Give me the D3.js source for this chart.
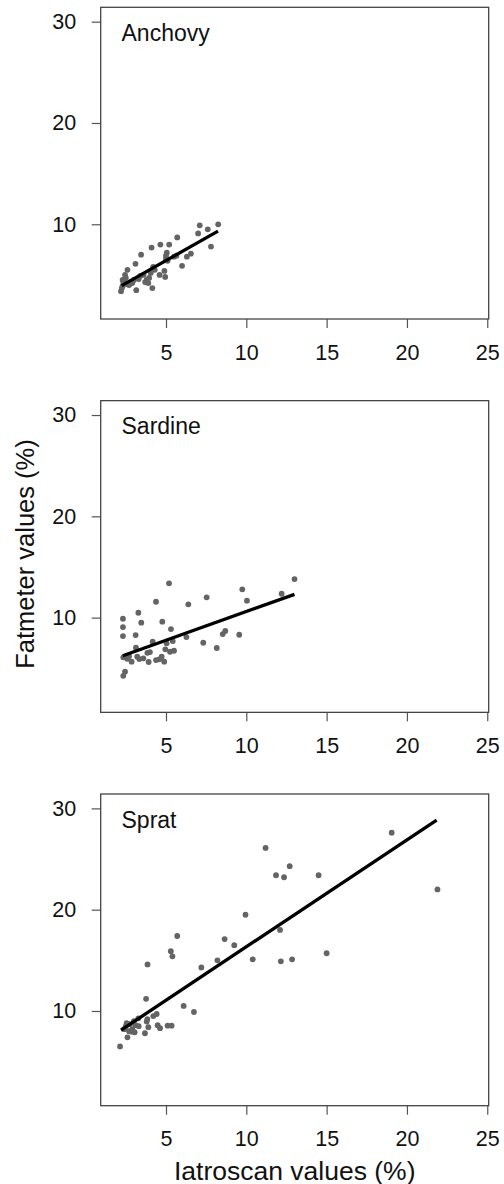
<!DOCTYPE html>
<html><head><meta charset="utf-8">
<script src="https://cdn.jsdelivr.net/npm/d3@7"></script>
<style>
html,body{margin:0;padding:0;background:#fff;}
svg{display:block;font-family:"Liberation Sans",Arial,sans-serif;}
</style></head>
<body><svg id="c" width="504" height="1184"></svg>
<script>
const species = ["Anchovy","Sardine","Sprat"];
const xTicks = [5,10,15,20,25];
const yTicks = [10,20,30];
const xLabel = "Iatroscan values (%)";
const yLabel = "Fatmeter values (%)";

const anchovyX = [2.2,2.25,2.3,2.35,2.3,2.4,2.5,2.45,2.6,2.55,2.7,2.8,2.9,3.0,3.1,3.15,3.3,3.4,3.45,3.6,3.7,3.8,3.9,3.95,4.05,4.1,4.15,4.2,4.3,4.6,4.65,4.95,5.0,5.05,5.1,5.2,5.5,5.7,5.65,6.0,6.3,6.55,7.0,7.1,7.6,7.8,8.25,5.0,4.9];
const anchovyY = [3.4,3.7,3.9,4.2,4.5,4.4,4.7,5.0,5.5,4.1,4.0,4.3,4.2,4.5,6.1,3.5,4.6,4.9,7.0,5.0,4.3,4.5,4.2,4.7,5.2,7.7,3.7,5.8,5.5,5.0,8.0,4.8,6.6,7.2,6.4,8.0,6.8,8.7,6.9,5.9,6.8,7.1,9.1,9.9,9.5,7.8,10.0,6.9,5.4];

const sardineX = [2.32,2.32,2.32,3.28,3.46,3.11,4.38,4.77,5.19,5.31,6.39,6.27,7.53,7.32,8.16,8.53,8.69,9.56,9.75,10.04,12.2,13.0,5.42,5.04,4.17,3.13,5.5,5.25,4.96,4.0,3.84,2.34,2.59,2.86,3.21,3.34,3.59,3.92,4.38,4.58,4.73,4.89,2.45,2.34,2.5,2.7];
const sardineY = [9.89,9.07,8.18,10.48,9.5,8.28,11.57,9.6,13.39,8.87,11.31,8.08,12.0,7.52,7.0,8.38,8.68,8.31,12.79,11.67,12.36,13.81,7.69,7.46,7.62,7.03,6.73,6.63,6.87,6.6,6.53,6.08,5.94,5.65,6.14,5.91,5.98,5.62,5.81,5.88,6.14,5.65,4.66,4.26,6.1,6.2];

const spratX = [2.14,2.4,2.5,2.55,2.6,2.7,2.75,2.87,2.9,3.0,3.05,3.1,3.28,3.3,3.69,3.76,3.8,3.85,3.9,4.21,4.42,4.48,4.63,5.1,5.35,5.3,5.4,5.7,6.1,6.74,7.2,8.2,8.65,9.25,9.95,10.4,11.2,11.85,12.1,12.15,12.35,12.7,12.85,14.5,15.0,19.05,21.9,3.84];
const spratY = [6.5,8.2,8.5,8.8,7.4,8.0,8.7,7.96,8.2,9.0,7.9,8.6,9.28,8.5,7.8,11.2,8.95,14.6,8.4,9.5,9.7,8.6,8.3,8.55,8.55,15.9,15.4,17.4,10.5,9.9,14.3,15.0,17.1,16.5,19.5,15.1,26.1,23.4,18.0,14.9,23.2,24.3,15.1,23.4,15.7,27.6,22.0,9.2];

const fitX = [[2.24,8.24],[2.31,13.0],[2.2,21.85]];
const fitY = [[3.95,9.32],[6.24,12.3],[8.1,28.85]];

const seriesX = [anchovyX, sardineX, spratX];
const seriesY = [anchovyY, sardineY, spratY];

const svg = d3.select("#c");
const L = 100.7, R = 488.7, T0 = 7.3, B0 = 319, step = 393.35;
const x = d3.scaleLinear().domain([0.935, 25.09]).range([L, R]);

species.forEach((name, k) => {
  const top = T0 + k*step, bot = B0 + k*step;
  const y = d3.scaleLinear().domain([0.65, 31.42]).range([bot, top]);
  const g = svg.append("g");

  // y axis
  const ya = g.append("g").attr("transform", `translate(${L},0)`)
    .call(d3.axisLeft(y).tickValues(yTicks).tickSize(9).tickPadding(15.5).tickFormat(d3.format("d")));
  ya.select(".domain").remove();
  ya.selectAll("line").attr("stroke", "#555").attr("stroke-width", 1.2);
  ya.selectAll("text").attr("font-size", "21.5px").attr("fill", "#111")
    .attr("font-family", "Liberation Sans, Arial, sans-serif");

  // x axis
  const xa = g.append("g").attr("transform", `translate(0,${bot})`)
    .call(d3.axisBottom(x).tickValues(xTicks).tickSize(9).tickPadding(16.5).tickFormat(d3.format("d")));
  xa.select(".domain").remove();
  xa.selectAll("line").attr("stroke", "#555").attr("stroke-width", 1.2);
  xa.selectAll("text").attr("font-size", "21.5px").attr("fill", "#111")
    .attr("font-family", "Liberation Sans, Arial, sans-serif");

  // box
  g.append("rect").attr("x", L).attr("y", top).attr("width", R-L).attr("height", bot-top)
    .attr("fill", "none").attr("stroke", "#444").attr("stroke-width", 1.3);

  // points
  const pts = seriesX[k].map((v, i) => [v, seriesY[k][i]]);
  g.append("g").selectAll("circle").data(pts).join("circle")
    .attr("cx", d => x(d[0])).attr("cy", d => y(d[1])).attr("r", 2.9)
    .attr("fill", "#646464");

  // fit line
  g.append("line")
    .attr("x1", x(fitX[k][0])).attr("y1", y(fitY[k][0]))
    .attr("x2", x(fitX[k][1])).attr("y2", y(fitY[k][1]))
    .attr("stroke", "#000").attr("stroke-width", 3.3);

  // label
  g.append("text").attr("x", 121.5).attr("y", top + 33.8).text(name)
    .attr("font-size", "23px").attr("fill", "#111");
});

svg.append("text").attr("x", 294.7).attr("y", 1179.5).attr("text-anchor", "middle")
  .attr("font-size", "26.5px").attr("fill", "#111").text(xLabel);
svg.append("text").attr("transform", "translate(33.5,554) rotate(-90)").attr("text-anchor", "middle")
  .attr("font-size", "25.5px").attr("fill", "#111").text(yLabel);
</script></body></html>
